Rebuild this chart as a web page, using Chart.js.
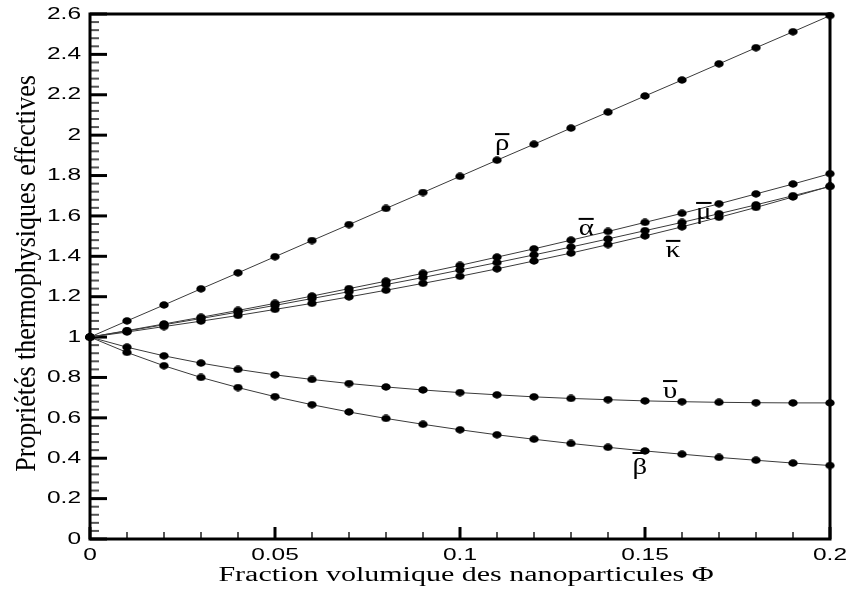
<!DOCTYPE html>
<html>
<head>
<meta charset="utf-8">
<script src="https://cdn.jsdelivr.net/npm/chart.js@4.4.1/dist/chart.umd.min.js"></script>
<style>
  html, body { margin: 0; padding: 0; background: #fff; }
</style>
</head>
<body>
<canvas id="chart" width="850" height="592"></canvas>
<script>
// volume fraction of nanoparticles
const phi = [0, 0.01, 0.02, 0.03, 0.04, 0.05, 0.06, 0.07, 0.08, 0.09, 0.10,
             0.11, 0.12, 0.13, 0.14, 0.15, 0.16, 0.17, 0.18, 0.19, 0.20];

// effective properties, normalised by the base fluid
const rho = [1, 1.080, 1.159, 1.239, 1.318, 1.398, 1.478, 1.557, 1.637, 1.716, 1.796,
             1.876, 1.955, 2.035, 2.114, 2.194, 2.273, 2.353, 2.433, 2.512, 2.592];
const alpha = [1, 1.032, 1.065, 1.098, 1.132, 1.167, 1.203, 1.240, 1.277, 1.316, 1.355,
               1.396, 1.437, 1.480, 1.523, 1.568, 1.613, 1.660, 1.709, 1.758, 1.809];
const kappa = [1, 1.030, 1.061, 1.092, 1.124, 1.157, 1.191, 1.225, 1.260, 1.295, 1.332,
               1.369, 1.407, 1.446, 1.486, 1.527, 1.568, 1.611, 1.655, 1.700, 1.746];
const mu = [1, 1.025, 1.052, 1.079, 1.107, 1.137, 1.167, 1.199, 1.232, 1.266, 1.301,
            1.338, 1.377, 1.416, 1.458, 1.501, 1.546, 1.593, 1.642, 1.694, 1.747];
const upsilon = [1, 0.950, 0.907, 0.871, 0.840, 0.813, 0.790, 0.770, 0.753, 0.738, 0.725,
                 0.714, 0.704, 0.696, 0.690, 0.684, 0.680, 0.677, 0.675, 0.674, 0.674];
const beta = [1, 0.924, 0.858, 0.800, 0.750, 0.705, 0.665, 0.629, 0.597, 0.568, 0.541,
              0.516, 0.494, 0.473, 0.454, 0.436, 0.420, 0.404, 0.390, 0.376, 0.364];

// axis ticks
const xTicks = [0, 0.05, 0.1, 0.15, 0.2];
const yTicks = [0, 0.2, 0.4, 0.6, 0.8, 1, 1.2, 1.4, 1.6, 1.8, 2, 2.2, 2.4, 2.6];

// curve labels (symbol drawn with an overbar) and where they sit
const curveNames = ['ρ', 'α', 'μ', 'κ', 'υ', 'β'];
const curveLabelPhi = [0.1114, 0.1341, 0.1659, 0.1576, 0.1568, 0.1486];
const curveLabelVal = [1.926, 1.506, 1.585, 1.397, 0.698, 0.322];

const xTitle = 'Fraction volumique des nanoparticules Φ';
const yTitle = 'Propriétés thermophysiques effectives';

// slightly flattened round marker
const dot = document.createElement('canvas');
dot.width = 10;
dot.height = 8;
(function() {
    const c = dot.getContext('2d');
    c.fillStyle = '#000';
    c.beginPath();
    c.ellipse(5, 4, 4.7, 3.7, 0, 0, Math.PI * 2);
    c.fill();
})();

function series(values) {
    return {
        data: phi.map((x, i) => ({ x: x, y: values[i] })),
        borderColor: '#3a3a3a',
        borderWidth: 1,
        tension: 0,
        pointStyle: dot,
        pointRadius: 4,
        clip: false
    };
}

// text stretched along x, the way the old plot export looks
function wideText(ctx, text, x, y, sx, align, baseline) {
    ctx.save();
    ctx.translate(x, y);
    ctx.scale(sx, 1);
    ctx.textAlign = align;
    ctx.textBaseline = baseline;
    ctx.fillText(text, 0, 0);
    ctx.restore();
}

const frameAndTicks = {
    id: 'frameAndTicks',
    beforeDatasetsDraw(chart) {
        const ctx = chart.ctx;
        const area = chart.chartArea;
        const xs = chart.scales.x;
        const ys = chart.scales.y;
        ctx.save();
        ctx.lineCap = 'butt';

        // left axis: major every 0.2, four minors between
        for (let i = 0; i < yTicks.length; i++) {
            const v = yTicks[i];
            const py = ys.getPixelForValue(v);
            ctx.strokeStyle = '#000';
            ctx.lineWidth = 3;
            ctx.beginPath();
            ctx.moveTo(area.left, py);
            ctx.lineTo(area.left + 17, py);
            ctx.stroke();
            if (i === yTicks.length - 1) break;
            const step = (yTicks[i + 1] - v) / 5;
            ctx.strokeStyle = '#555';
            ctx.lineWidth = 2;
            for (let k = 1; k < 5; k++) {
                const pm = ys.getPixelForValue(v + k * step);
                ctx.beginPath();
                ctx.moveTo(area.left, pm);
                ctx.lineTo(area.left + 9, pm);
                ctx.stroke();
            }
        }

        // bottom axis: major every 0.05, four minors between
        for (let i = 0; i < xTicks.length; i++) {
            const v = xTicks[i];
            const px = xs.getPixelForValue(v);
            ctx.strokeStyle = '#000';
            ctx.lineWidth = 3;
            ctx.beginPath();
            ctx.moveTo(px, area.bottom);
            ctx.lineTo(px, area.bottom - 12);
            ctx.stroke();
            if (i === xTicks.length - 1) break;
            const step = (xTicks[i + 1] - v) / 5;
            ctx.strokeStyle = '#555';
            ctx.lineWidth = 2;
            for (let k = 1; k < 5; k++) {
                const pm = xs.getPixelForValue(v + k * step);
                ctx.beginPath();
                ctx.moveTo(pm, area.bottom);
                ctx.lineTo(pm, area.bottom - 7);
                ctx.stroke();
            }
        }

        ctx.strokeStyle = '#000';
        ctx.lineWidth = 3;
        ctx.strokeRect(area.left, area.top, area.right - area.left, area.bottom - area.top);

        // tick labels
        ctx.fillStyle = '#000';
        ctx.font = '17px "Liberation Sans", Arial, sans-serif';
        yTicks.forEach(v => {
            wideText(ctx, String(v), area.left - 9, ys.getPixelForValue(v), 1.44, 'right', 'middle');
        });
        xTicks.forEach(v => {
            wideText(ctx, String(v), xs.getPixelForValue(v), area.bottom + 16, 1.44, 'center', 'middle');
        });

        // axis titles
        ctx.font = '20px "Liberation Serif", "Times New Roman", serif';
        wideText(ctx, xTitle, (area.left + area.right) / 2 + 6, 581, 1.5, 'center', 'alphabetic');

        ctx.save();
        ctx.translate(35, (area.top + area.bottom) / 2 - 3);
        ctx.scale(1.15, 1);
        ctx.rotate(-Math.PI / 2);
        ctx.font = '26px "Liberation Serif", "Times New Roman", serif';
        ctx.textAlign = 'center';
        ctx.textBaseline = 'alphabetic';
        ctx.fillText(yTitle, 0, 0);
        ctx.restore();

        ctx.restore();
    },
    afterDatasetsDraw(chart) {
        const ctx = chart.ctx;
        const xs = chart.scales.x;
        const ys = chart.scales.y;
        const sx = 1.2;
        ctx.save();
        ctx.fillStyle = '#000';
        ctx.strokeStyle = '#000';
        ctx.font = '24px "Liberation Serif", "Times New Roman", serif';
        curveNames.forEach((name, i) => {
            const px = xs.getPixelForValue(curveLabelPhi[i]);
            const py = ys.getPixelForValue(curveLabelVal[i]);
            wideText(ctx, name, px, py, sx, 'center', 'alphabetic');
            const m = ctx.measureText(name);
            const w = m.width * sx;
            const top = py - m.actualBoundingBoxAscent - 5;
            ctx.lineWidth = 2;
            ctx.beginPath();
            ctx.moveTo(px - w / 2, top);
            ctx.lineTo(px + w / 2, top);
            ctx.stroke();
        });
        ctx.restore();
    }
};

new Chart(document.getElementById('chart'), {
    type: 'line',
    data: {
        datasets: [
            series(rho),
            series(alpha),
            series(kappa),
            series(mu),
            series(upsilon),
            series(beta)
        ]
    },
    options: {
        responsive: false,
        animation: false,
        devicePixelRatio: 1,
        layout: {
            padding: { left: 90, right: 20, top: 14, bottom: 53 }
        },
        plugins: {
            legend: { display: false },
            tooltip: { enabled: false }
        },
        scales: {
            x: { type: 'linear', display: false, min: 0, max: 0.2 },
            y: { type: 'linear', display: false, min: 0, max: 2.6 }
        }
    },
    plugins: [frameAndTicks]
});
</script>
</body>
</html>
